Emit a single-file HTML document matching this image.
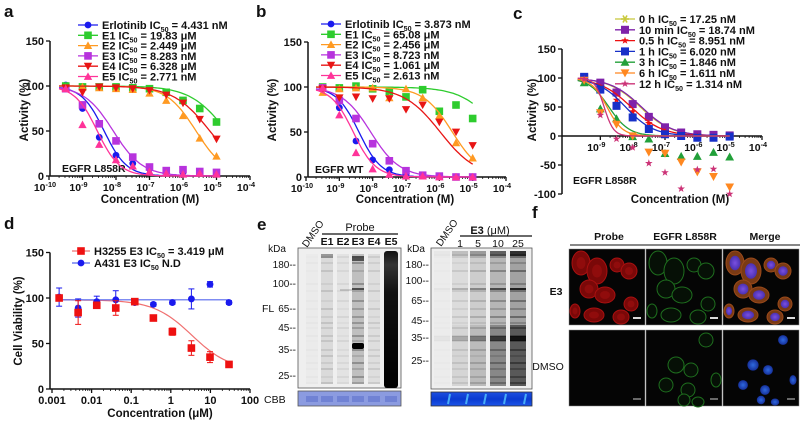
<!DOCTYPE html>
<html><head><meta charset="utf-8">
<style>
html,body{margin:0;padding:0;background:#fff;}
svg{display:block;font-family:"Liberation Sans",Arial,sans-serif;}
</style></head>
<body>
<svg id="fig" width="800" height="421" viewBox="0 0 800 421" xmlns="http://www.w3.org/2000/svg">
<defs>
<linearGradient id="e5g" x1="0" y1="0" x2="0" y2="1">
<stop offset="0" stop-color="#111"/><stop offset="0.1" stop-color="#333"/><stop offset="0.3" stop-color="#111"/><stop offset="1" stop-color="#000"/></linearGradient>
<linearGradient id="cbbR" x1="0" y1="0" x2="0" y2="1"><stop offset="0" stop-color="#1d4fe0"/><stop offset="0.5" stop-color="#0a3ad0"/><stop offset="1" stop-color="#1d55e8"/></linearGradient>
<radialGradient id="nuc"><stop offset="0" stop-color="#7a50e0"/><stop offset="1" stop-color="#4a30b0"/></radialGradient>
<radialGradient id="nucB"><stop offset="0" stop-color="#2f6ae0"/><stop offset="1" stop-color="#16309a"/></radialGradient>
</defs>
<g id="root"></g>
</svg>
<script>
// ---------- Shared concentration categories (log10 M) ----------
const concLogAB = [-9.5,-9.0,-8.5,-8.0,-7.5,-7.0,-6.5,-6.0,-5.5,-5.0];
const concLogC  = [-9.5,-9.0,-8.5,-8.0,-7.5,-7.0,-6.5,-6.0,-5.5,-5.0];
// Panel a (EGFR L858R)
const aErlot = [101,75,43,23,14,8,5,4,5,3];
const aE1 = [100,99,99,99,98,97,93,84,75,60];
const aE2 = [98,99,98,97,96,92,84,67,42,22];
const aE3 = [97,79,58,39,21,10,6,7,5,4];
const aE4 = [98,93,99,98,97,95,90,81,63,41];
const aE5 = [97,57,35,18,11,5,3,2,3,2];
const aIC50 = [4.431e-9,19.83e-6,2.449e-6,8.283e-9,6.328e-6,2.771e-9];
// Panel b (EGFR WT)
const bErlot = [100,77,40,19,8,2,1,1,0,0];
const bE1 = [100,99,101,98,95,89,97,73,80,65];
const bE2 = [94,98,99,99,88,98,88,68,38,21];
const bE3 = [99,85,65,37,18,7,2,1,0,0];
const bE4 = [98,88,89,87,87,75,80,61,50,35];
const bE5 = [99,69,27,9,3,1,1,0,0,0];
const bIC50 = [3.873e-9,65.08e-6,2.456e-6,8.723e-9,1.061e-6,2.613e-9];
// Panel c (time course)
const c0h   = [100,91,74,54,32,14,6,3,2,1];
const c10m  = [101,92,75,55,33,15,6,3,2,1];
const c05h  = [98,80,62,42,22,8,1,-1,-2,0];
const c1h   = [102,80,52,32,12,3,0,-3,-3,-1];
const c3h   = [92,47,30,-1,-5,-30,-35,-35,-28,-36];
const c6h   = [96,40,20,0,-28,-30,-45,-62,-70,-88];
const c12h  = [98,36,-5,-20,-47,-63,-91,-58,-57,-100];
const cIC50 = [17.25e-9,18.74e-9,8.951e-9,6.020e-9,1.846e-9,1.611e-9,1.314e-9];
// Panel d (cell viability)
const dConcLog = [-2.82,-2.34,-1.87,-1.39,-0.91,-0.44,0.04,0.52,0.99,1.47];
const dH3255 = [100,84,92,89,96,78,63,45,35,27];
const dH3255Err = [3,13,3,8,3,2,4,8,6,2];
const dA431 = [101,89,96,98,95,93,95,99,115,95];
const dA431Err = [10,10,6,10,2,2,2,11,3,2];
const dIC50 = 3.419;
// tick labels
const xExpAB = [-10,-9,-8,-7,-6,-5,-4];
const yTicksAB = [0,50,100,150];
const yTicksC = [-100,-50,0,50,100,150];
const xTicksD = ["0.001","0.01","0.1","1","10","100"];
const yTicksD = [0,50,100,150];

const NS="http://www.w3.org/2000/svg";
const root=document.getElementById('root');
function mk(tag,attrs,parent){const e=document.createElementNS(NS,tag);for(const k in attrs)e.setAttribute(k,attrs[k]);(parent||root).appendChild(e);return e;}
function txt(x,y,s,size,opts,parent){opts=opts||{};const t=mk('text',{x:x,y:y,'font-size':size,'font-weight':opts.w||'bold','text-anchor':opts.a||'start',fill:opts.f||'#111'},parent);if(opts.rot)t.setAttribute('transform','rotate('+opts.rot+' '+x+' '+y+')');t.textContent=s;return t;}

function marker(g,shape,x,y,c,r){
  r=r||4;
  if(shape==='circle')return mk('circle',{cx:x,cy:y,r:r*0.9,fill:c},g);
  if(shape==='square')return mk('rect',{x:x-r,y:y-r,width:2*r,height:2*r,fill:c},g);
  if(shape==='up')return mk('polygon',{points:`${x},${y-r*1.1} ${x+r*1.1},${y+r*0.9} ${x-r*1.1},${y+r*0.9}`,fill:c},g);
  if(shape==='down')return mk('polygon',{points:`${x-r*1.1},${y-r*0.9} ${x+r*1.1},${y-r*0.9} ${x},${y+r*1.1}`,fill:c},g);
  if(shape==='star'){let p=[];for(let i=0;i<10;i++){const a=-Math.PI/2+i*Math.PI/5;const rr=i%2?r*0.4:r;p.push((x+rr*Math.cos(a)).toFixed(1)+','+(y+rr*Math.sin(a)).toFixed(1));}return mk('polygon',{points:p.join(' '),fill:c},g);}
  if(shape==='xstar'){const gg=mk('g',{},g);for(let i=0;i<3;i++){const a=i*Math.PI/3;mk('line',{x1:x-r*Math.cos(a),y1:y-r*Math.sin(a),x2:x+r*Math.cos(a),y2:y+r*Math.sin(a),stroke:c,'stroke-width':1.6},gg);}return gg;}
}
function legendText(g,x,y,pre,post,size){
  const t=mk('text',{x:x,y:y,'font-size':size,'font-weight':'bold',fill:'#111'},g);
  t.appendChild(document.createTextNode(pre+'IC'));
  const s=mk('tspan',{'font-size':size*0.65,dy:3},t);s.textContent='50';
  const r=mk('tspan',{dy:-3},t);r.textContent=post;return t;
}
function expLabel(g,x,y,e,size){
  const t=mk('text',{x:x-4,y:y,'font-size':size,'font-weight':'bold','text-anchor':'middle',fill:'#111'},g);
  t.appendChild(document.createTextNode('10'));
  const s=mk('tspan',{'font-size':size*0.7,dy:-4},t);s.textContent=String(e);
  return t;
}

// ---------- Dose-response panels ----------
function drawDR(cfg){
  const g=mk('g',{});
  
  
  const X=v=>cfg.x0+(v-cfg.xmin)/(cfg.xmax-cfg.xmin)*(cfg.x1-cfg.x0);
  const Y=v=>cfg.yZero-(v*cfg.ys);
  const yTop=Y(cfg.yTicks[cfg.yTicks.length-1]), yBot=Y(cfg.yTicks[0]);
  const ya=mk('line',{x1:cfg.yAxisX,y1:yTop,x2:cfg.yAxisX,y2:yBot,stroke:'#111','stroke-width':1.5},g);
  
  const xa=mk('line',{x1:cfg.yAxisX,y1:cfg.yZero,x2:X(cfg.xmax),y2:cfg.yZero,stroke:'#111','stroke-width':1.5},g);
  
  cfg.yTicks.forEach(v=>{mk('line',{x1:cfg.yAxisX-4,y1:Y(v),x2:cfg.yAxisX,y2:Y(v),stroke:'#111','stroke-width':1.3},g);
    const t=txt(cfg.yAxisX-6,Y(v)+4,String(v),11,{a:'end'},g);});
  cfg.xExp.forEach(e=>{mk('line',{x1:X(e),y1:cfg.yZero,x2:X(e),y2:cfg.yZero+4,stroke:'#111','stroke-width':1.3},g);
    for(let k=2;k<10&&e<cfg.xmax;k++){const xx=X(e+Math.log10(k));mk('line',{x1:xx,y1:cfg.yZero,x2:xx,y2:cfg.yZero+2,stroke:'#111','stroke-width':0.8},g);}
    const t=expLabel(g,X(e),cfg.yZero+cfg.tickDy,e,10.5);});
  const xt=txt(cfg.xTitleX,cfg.xTitleY,'Concentration (M)',11.5,{a:'middle'},g);
  if(cfg.yTitle){const yt=txt(cfg.yTitleX,cfg.yTitleY,cfg.yTitle,11.5,{a:'middle',rot:-90},g);}
  const lab=txt(cfg.labX,cfg.labY,cfg.label,10.5,{},g);
  cfg.series.forEach((s,si)=>{
    const sg=mk('g',{},g);
    
    
    const lic=Math.log10(s.ic50);let d='';
    const lo=cfg.xs[0]-0.2, hi=cfg.xs[cfg.xs.length-1];
    for(let i=0;i<=80;i++){const lx=lo+(hi-lo)*i/80;const v=100/(1+Math.pow(10,(lx-lic)*s.hill));d+=(i?'L':'M')+X(lx).toFixed(1)+','+Y(v).toFixed(1);}
    const p=mk('path',{d:d,fill:'none',stroke:s.color,'stroke-width':1.3},sg);
    s.vals.forEach((v,i)=>{if(v===null)return;const m=marker(sg,s.shape,X(cfg.xs[i]),Y(v),s.color,cfg.mr);});
    const ly=cfg.legY+si*cfg.legStep;
    const le=mk('g',{},g);
    mk('line',{x1:cfg.legX-10,y1:ly-4,x2:cfg.legX+10,y2:ly-4,stroke:s.color,'stroke-width':1.3},le);
    marker(le,s.shape,cfg.legX,ly-4,s.color,cfg.mr);
    legendText(le,cfg.legX+14,ly,s.pre,s.post,11);
  });
}

const colA={erl:'#1a1aee',e1:'#2ecc2e',e2:'#ff9a22',e3:'#b733dd',e4:'#e81515',e5:'#ff3399'};
function abSeries(v,ic){return [
  {key:'erlotinib',vals:v[0],ic50:ic[0],hill:1.3,color:colA.erl,shape:'circle',pre:'Erlotinib ',post:' = '+fmt(ic[0])},
  {key:'e1',vals:v[1],ic50:ic[1],hill:0.8,color:colA.e1,shape:'square',pre:'E1 ',post:' = '+fmt(ic[1])},
  {key:'e2',vals:v[2],ic50:ic[2],hill:1.0,color:colA.e2,shape:'up',pre:'E2 ',post:' = '+fmt(ic[2])},
  {key:'e3',vals:v[3],ic50:ic[3],hill:1.0,color:colA.e3,shape:'square',pre:'E3 ',post:' = '+fmt(ic[3])},
  {key:'e4',vals:v[4],ic50:ic[4],hill:0.8,color:colA.e4,shape:'down',pre:'E4 ',post:' = '+fmt(ic[4])},
  {key:'e5',vals:v[5],ic50:ic[5],hill:1.3,color:colA.e5,shape:'up',pre:'E5 ',post:' = '+fmt(ic[5])}];}
function fmt(v){if(v>=1e-6)return (v*1e6).toPrecision(4)+' μM';return (v*1e9).toPrecision(4)+' nM';}

drawDR({name:'panel-a-chart',xmin:-10,xmax:-4,x0:49,x1:250,yZero:176,ys:0.9,yAxisX:50,yTicks:yTicksAB,xExp:xExpAB,xs:concLogAB,tickDy:15,
  xTitleX:150,xTitleY:203,yTitle:'Activity (%)',yTitleX:28,yTitleY:110,label:'EGFR L858R',labX:62,labY:172,
  legX:88,legY:29,legStep:10.3,mr:3.8,series:abSeries([aErlot,aE1,aE2,aE3,aE4,aE5],aIC50)});
drawDR({name:'panel-b-chart',xmin:-10,xmax:-4,x0:306,x1:506,yZero:177,ys:0.9,yAxisX:308,yTicks:yTicksAB,xExp:xExpAB,xs:concLogAB,tickDy:15,
  xTitleX:405,xTitleY:203,yTitle:'Activity (%)',yTitleX:276,yTitleY:110,label:'EGFR WT',labX:315,labY:173,
  legX:331,legY:28,legStep:10.3,mr:3.8,series:abSeries([bErlot,bE1,bE2,bE3,bE4,bE5],bIC50)});

const cSeries=[
  {key:'0h',vals:c0h,ic50:cIC50[0],hill:0.9,color:'#c8c83a',shape:'xstar',pre:'0 h ',post:' = 17.25 nM'},
  {key:'10min',vals:c10m,ic50:cIC50[1],hill:0.9,color:'#7f22aa',shape:'square',pre:'10 min ',post:' = 18.74 nM'},
  {key:'0-5h',vals:c05h,ic50:cIC50[2],hill:0.9,color:'#ee1111',shape:'star',pre:'0.5 h ',post:' = 8.951 nM'},
  {key:'1h',vals:c1h,ic50:cIC50[3],hill:1.0,color:'#1730c8',shape:'square',pre:'1 h ',post:' = 6.020 nM'},
  {key:'3h',vals:c3h,ic50:cIC50[4],hill:1.4,color:'#22a03a',shape:'up',pre:'3 h ',post:' = 1.846 nM'},
  {key:'6h',vals:c6h,ic50:cIC50[5],hill:1.8,color:'#ff8820',shape:'down',pre:'6 h ',post:' = 1.611 nM'},
  {key:'12h',vals:c12h,ic50:cIC50[6],hill:3,color:'#cc3377',shape:'star',pre:'12 h ',post:' = 1.314 nM'}];
drawDR({name:'panel-c-chart',xmin:-10,xmax:-4,x0:568,x1:762,yZero:136,ys:0.58,yAxisX:562,yTicks:yTicksC,xExp:[-9,-8,-7,-6,-5,-4],xs:concLogC,tickDy:15,
  xTitleX:680,xTitleY:203,yTitle:'Activity    (%)',yTitleX:536,yTitleY:110,label:'EGFR L858R',labX:573,labY:184,
  legX:625,legY:23,legStep:10.8,mr:4,series:cSeries});

// ---------- Panel d ----------
(function(){
  const g=mk('g',{});
  
  
  const X=v=>52+(v+3)*39.6, Y=v=>389-v*0.91;
  const ya=mk('line',{x1:50,y1:Y(150),x2:50,y2:Y(0),stroke:'#111','stroke-width':1.5},g);
  const xa=mk('line',{x1:50,y1:Y(0),x2:X(2),y2:Y(0),stroke:'#111','stroke-width':1.5},g);
  yTicksD.forEach(v=>{mk('line',{x1:46,y1:Y(v),x2:50,y2:Y(v),stroke:'#111','stroke-width':1.3},g);const t=txt(44,Y(v)+4,String(v),11,{a:'end'},g);});
  xTicksD.forEach((s,i)=>{const x=X(-3+i);mk('line',{x1:x,y1:Y(0),x2:x,y2:Y(0)+4,stroke:'#111','stroke-width':1.3},g);
    for(let k=2;k<10&&i<5;k++){const xx=X(-3+i+Math.log10(k));mk('line',{x1:xx,y1:Y(0),x2:xx,y2:Y(0)+2,stroke:'#111','stroke-width':0.8},g);}
    const t=txt(x,Y(0)+15,s,11,{a:'middle'},g);});
  const xt=txt(160,417,'Concentration (μM)',11.5,{a:'middle'},g);
  const yt=txt(22,321,'Cell Viability (%)',11.5,{a:'middle',rot:-90},g);
  let d='';for(let i=0;i<=60;i++){const lx=dConcLog[0]+(dConcLog[9]-dConcLog[0])*i/60;const v=20+78/(1+Math.pow(10,(lx-Math.log10(dIC50))*0.9));d+=(i?'L':'M')+X(lx).toFixed(1)+','+Y(v).toFixed(1);}
  const rc=mk('path',{d:d,fill:'none',stroke:'#f07070','stroke-width':1.2},g);
  const bl=mk('line',{x1:X(dConcLog[0]),y1:Y(98),x2:X(dConcLog[9]),y2:Y(98),stroke:'#5566ee','stroke-width':1.2},g);
  function pts(vals,errs,col,shape,key){vals.forEach((v,i)=>{const x=X(dConcLog[i]);
    mk('line',{x1:x,y1:Y(v-errs[i]),x2:x,y2:Y(v+errs[i]),stroke:col,'stroke-width':1},g);
    mk('line',{x1:x-3,y1:Y(v-errs[i]),x2:x+3,y2:Y(v-errs[i]),stroke:col,'stroke-width':1},g);
    mk('line',{x1:x-3,y1:Y(v+errs[i]),x2:x+3,y2:Y(v+errs[i]),stroke:col,'stroke-width':1},g);
    const m=marker(g,shape,x,Y(v),col,3.8);});}
  pts(dA431,dA431Err,'#1a1aee','circle','a431');
  pts(dH3255,dH3255Err,'#ee1111','square','h3255');
  const l1=mk('g',{},g);
  mk('line',{x1:72,y1:251,x2:90,y2:251,stroke:'#f07070','stroke-width':1.2},l1);marker(l1,'square',81,251,'#ee1111',3.8);
  legendText(l1,94,255,'H3255 E3 ',' = 3.419 μM',11);
  const l2=mk('g',{},g);
  mk('line',{x1:72,y1:263,x2:90,y2:263,stroke:'#5566ee','stroke-width':1.2},l2);marker(l2,'circle',81,263,'#1a1aee',3.8);
  legendText(l2,94,267,'A431   E3 ',' N.D',11);
})();

// ---------- Panel e: gels ----------
const gelL={x:298,y:248,w:103,h:140,lanes:[312,327,343,358,374,391]};
const gelR={x:431,y:248,w:101,h:141,lanes:[442,460,478,498,518,531]};
const bandsMW=[256,262,270,283,290,300,308,316,322,327,335,340,349,355,362,368,376,382];
(function(){
  const g=mk('g',{});
  const lb=mk('rect',{x:gelL.x,y:gelL.y,width:gelL.w,height:gelL.h,fill:'#efefef',stroke:'#555','stroke-width':0.8},g);
  const lInt=[0.04,0.22,0.12,0.5,0.18];
  gelL.lanes.slice(0,5).forEach((lx,li)=>{
    mk('rect',{x:lx-6,y:254,width:12,height:130,fill:'#000',opacity:lInt[li]*0.4},g);
    bandsMW.forEach((by,bi)=>{const o=lInt[li]*0.5*(0.4+0.6*Math.abs(Math.sin(bi*1.7+li)));mk('rect',{x:lx-6,y:by,width:12,height:2,fill:'#000',opacity:o},g);});
  });
  mk('rect',{x:340,y:289,width:12,height:2,fill:'#000',opacity:0.15},g);
  mk('rect',{x:352,y:343,width:12,height:6,rx:2,fill:'#000'},g);
  mk('rect',{x:352,y:288,width:12,height:2,fill:'#000',opacity:0.6},g);
  mk('rect',{x:352,y:256,width:12,height:5,fill:'#222',opacity:0.7},g);
  mk('rect',{x:321,y:254,width:12,height:4,fill:'#555',opacity:0.5},g);
  mk('rect',{x:gelL.lanes[5]-7,y:251,width:14,height:137,rx:3,fill:'url(#e5g)'},g);
  const cl=mk('rect',{x:298,y:391,width:103,height:15,fill:'#8b9be0',stroke:'#555','stroke-width':0.8},g);
  gelL.lanes.forEach(lx=>mk('rect',{x:lx-6,y:396,width:12,height:6,fill:'#5f72cc',opacity:0.6},g));
  const rb=mk('rect',{x:gelR.x,y:gelR.y,width:gelR.w,height:gelR.h,fill:'#efefef',stroke:'#555','stroke-width':0.8},g);
  const rInt=[0.03,0.2,0.35,0.6,0.8];
  gelR.lanes.slice(0,5).forEach((lx,li)=>{
    mk('rect',{x:lx-8,y:254,width:16,height:132,fill:'#000',opacity:rInt[li]*0.4},g);
    mk('rect',{x:lx-8,y:325,width:16,height:61,fill:'#000',opacity:rInt[li]*rInt[li]*0.7},g);
    bandsMW.forEach((by,bi)=>{const o=rInt[li]*0.45*(0.4+0.6*Math.abs(Math.sin(bi*1.3+2)));mk('rect',{x:lx-8,y:by,width:16,height:2,fill:'#000',opacity:o},g);});
    mk('rect',{x:lx-8,y:336,width:16,height:5,fill:'#000',opacity:rInt[li]},g);
    mk('rect',{x:lx-8,y:251,width:16,height:5,fill:'#000',opacity:rInt[li]},g);
    mk('rect',{x:lx-8,y:288,width:16,height:2,fill:'#000',opacity:rInt[li]},g);
  });
  const cr=mk('rect',{x:431,y:392,width:101,height:14,fill:'url(#cbbR)',stroke:'#333','stroke-width':0.8},g);
  gelR.lanes.slice(0,5).forEach(lx=>mk('line',{x1:lx+8,y1:394,x2:lx+6,y2:404,stroke:'#55c8ff','stroke-width':2,opacity:0.8},g));
  const mwL=[['180',264],['100',283],['65',308],['45',327],['35',349],['25',375]];
  mwL.forEach(m=>{txt(296,m[1]+4,m[0]+'--',10,{w:'normal',a:'end'},g);});
  const mwR=[['180',264],['100',280],['65',300],['45',320],['35',337],['25',360]];
  mwR.forEach(m=>{txt(429,m[1]+4,m[0]+'--',10,{w:'normal',a:'end'},g);});
  txt(277,252,'kDa',10,{w:'normal',a:'middle'},g);
  txt(416,252,'kDa',10,{w:'normal',a:'middle'},g);
  txt(262,312,'FL',10.5,{w:'normal'},g);
  txt(264,403,'CBB',10.5,{w:'normal'},g);
  txt(307,248,'DMSO',10,{w:'normal',rot:-55},g);
  txt(441,247,'DMSO',10,{w:'normal',rot:-55},g);
  ['E1','E2','E3','E4','E5'].forEach((s,i)=>{const t=txt(gelL.lanes[i+1],245,s,10.5,{a:'middle'},g);});
  txt(360,231,'Probe',11,{w:'normal',a:'middle'},g);
  mk('line',{x1:322,y1:234,x2:398,y2:234,stroke:'#111','stroke-width':1.2},g);
  const e3=mk('text',{x:490,y:234,'font-size':11,'text-anchor':'middle',fill:'#111'},g);
  const e3b=mk('tspan',{'font-weight':'bold'},e3);e3b.textContent='E3 ';
  const e3u=mk('tspan',{},e3);e3u.textContent='(μM)';
  mk('line',{x1:460,y1:236,x2:532,y2:236,stroke:'#111','stroke-width':1.2},g);
  ['1','5','10','25'].forEach((s,i)=>{txt(gelR.lanes[i+1],247,s,10.5,{w:'normal',a:'middle'},g);});
})();

// ---------- Panel f: microscopy ----------
const cellsE3=[[12,14,9,12],[28,22,10,13],[48,16,7,7],[60,22,8,8],[20,40,9,9],[36,46,10,8],[62,55,7,7],[25,66,10,7],[52,68,8,7],[6,62,5,7]];
const cellsD=[[60,10,7,7],[30,35,8,8],[45,40,7,7],[20,55,7,7],[42,60,7,7],[70,50,5,7],[38,70,6,6],[52,72,6,5]];
(function(){
  const g=mk('g',{});
  const cols=[569,646,723], rows=[249,330];
  const chans=['probe','egfr','merge'];
  rows.forEach((ry,ri)=>cols.forEach((cx,ci)=>{
    const r=mk('rect',{x:cx,y:ry,width:76,height:76,fill:'#050505',stroke:'#888','stroke-width':0.5},g);
    
    const cells=ri?cellsD:cellsE3;
    cells.forEach(c=>{const x=cx+c[0],y=ry+c[1];
      if(ci===0&&ri===0){mk('ellipse',{cx:x,cy:y,rx:c[2],ry:c[3],fill:'#7a0808',stroke:'#a81010','stroke-width':1},g);mk('ellipse',{cx:x,cy:y,rx:c[2]*0.5,ry:c[3]*0.5,fill:'#900c0c'},g);}
      if(ci===1){mk('ellipse',{cx:x,cy:y,rx:c[2],ry:c[3],fill:'#061006',stroke:'#1e6e1e','stroke-width':1},g);}
      if(ci===2&&ri===0){mk('ellipse',{cx:x,cy:y,rx:c[2],ry:c[3],fill:'#7a3a14',stroke:'#9a4a1a','stroke-width':1},g);mk('ellipse',{cx:x,cy:y,rx:c[2]*0.6,ry:c[3]*0.6,fill:'url(#nuc)'},g);}
      if(ci===2&&ri===1){mk('ellipse',{cx:x,cy:y,rx:c[2]*0.7,ry:c[3]*0.7,fill:'url(#nucB)'},g);}
    });
    mk('rect',{x:cx+64,y:ry+68,width:8,height:2,fill:'#fff',opacity:ri?0.4:0.85},g);
  }));
  txt(609,240,'Probe',10.5,{a:'middle'},g);
  txt(685,240,'EGFR L858R',10.5,{a:'middle'},g);
  txt(765,240,'Merge',10.5,{a:'middle'},g);
  mk('line',{x1:570,y1:245,x2:800,y2:245,stroke:'#111','stroke-width':1},g);
  txt(556,295,'E3',10.5,{a:'middle'},g);
  txt(548,370,'DMSO',10.5,{w:'normal',a:'middle'},g);
})();

[['a',4,17],['b',256,17],['c',513,19],['d',4,229],['e',257,230],['f',532,218]].forEach(l=>{const t=txt(l[1],l[2],l[0],17);});
</script>
</body></html>
